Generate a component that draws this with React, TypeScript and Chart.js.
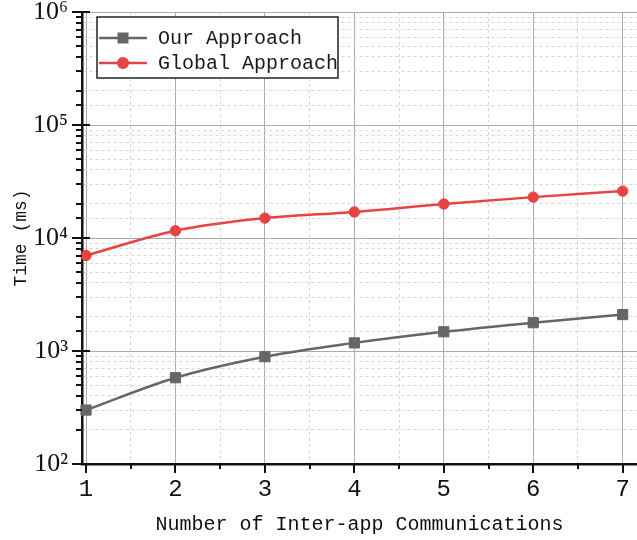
import React, { useEffect, useRef } from 'react';
import { Chart, registerables } from 'chart.js';

Chart.register(...registerables);

const xValues = [1, 2, 3, 4, 5, 6, 7];
const ourApproach = [300, 580, 890, 1180, 1480, 1780, 2100];
const globalApproach = [7000, 11600, 15000, 17000, 20000, 23000, 26000];
const seriesLabels = ['Our Approach', 'Global Approach'];
const seriesColors = ['#666666', '#e84343'];
const seriesMarkers = ['rect', 'circle'];
const xTitle = 'Number of Inter-app Communications';
const yTitle = 'Time (ms)';
const yMin = 100;
const yMax = 1000000;
const xMin = 0.955;
const xMax = 7.16;

const SUP = ['⁰', '¹', '²', '³', '⁴', '⁵', '⁶', '⁷', '⁸', '⁹'];
const MONO = '"Liberation Mono", "DejaVu Sans Mono", monospace';
const SERIF = '"Liberation Serif", "DejaVu Serif", serif';

const isPow10 = (v: number) => {
  const l = Math.log10(v);
  return Math.abs(l - Math.round(l)) < 1e-9;
};
const isInt = (v: number) => Math.abs(v - Math.round(v)) < 1e-9;

const axisTickPlugin = {
  id: 'axisTickPlugin',
  afterDraw(chart: any) {
    const { ctx, chartArea, scales } = chart;
    const x = scales.x;
    const y = scales.y;
    ctx.save();
    ctx.strokeStyle = '#111';
    ctx.lineWidth = 2;
    y.ticks.forEach((t: any) => {
      const py = Math.round(y.getPixelForValue(t.value));
      ctx.beginPath();
      if (isPow10(t.value)) {
        ctx.moveTo(chartArea.left - 10, py);
        ctx.lineTo(chartArea.left + 8, py);
      } else {
        ctx.moveTo(chartArea.left - 6, py);
        ctx.lineTo(chartArea.left, py);
      }
      ctx.stroke();
    });
    x.ticks.forEach((t: any) => {
      const px = Math.round(x.getPixelForValue(t.value));
      ctx.beginPath();
      ctx.moveTo(px, chartArea.bottom);
      ctx.lineTo(px, chartArea.bottom + (isInt(t.value) ? 9 : 5));
      ctx.stroke();
    });
    ctx.restore();
  },
};

const boxLegendPlugin = {
  id: 'boxLegendPlugin',
  afterDraw(chart: any) {
    const { ctx, chartArea } = chart;
    const left = chartArea.left + 15;
    const top = chartArea.top + 5;
    const w = 241;
    const h = 61;
    ctx.save();
    ctx.fillStyle = '#ffffff';
    ctx.fillRect(left, top, w, h);
    ctx.strokeStyle = '#222';
    ctx.lineWidth = 1.5;
    ctx.strokeRect(left, top, w, h);
    chart.data.datasets.forEach((ds: any, i: number) => {
      const cy = top + 21 + i * 25;
      ctx.strokeStyle = ds.borderColor;
      ctx.lineWidth = 2.5;
      ctx.beginPath();
      ctx.moveTo(left + 2, cy);
      ctx.lineTo(left + 50, cy);
      ctx.stroke();
      ctx.fillStyle = ds.borderColor;
      const mx = left + 26;
      if (ds.pointStyle === 'rect') {
        ctx.fillRect(mx - 5.5, cy - 5.5, 11, 11);
      } else {
        ctx.beginPath();
        ctx.arc(mx, cy, 6, 0, Math.PI * 2);
        ctx.fill();
      }
      ctx.fillStyle = '#1a1a1a';
      ctx.font = `20px ${MONO}`;
      ctx.textBaseline = 'middle';
      ctx.textAlign = 'left';
      ctx.fillText(ds.label, left + 61, cy + 1);
    });
    ctx.restore();
  },
};

const zeroPad = (s: any) => {
  s.paddingLeft = 0;
  s.paddingRight = 0;
  s.paddingTop = 0;
  s.paddingBottom = 0;
};

export default function App() {
  const canvasRef = useRef<HTMLCanvasElement | null>(null);

  useEffect(() => {
    if (!canvasRef.current) return;
    const seriesValues = [ourApproach, globalApproach];
    const chart = new Chart(canvasRef.current, {
      type: 'line',
      data: {
        datasets: seriesValues.map((vals, i) => ({
          label: seriesLabels[i],
          data: xValues.map((xv, j) => ({ x: xv, y: vals[j] })),
          borderColor: seriesColors[i],
          backgroundColor: seriesColors[i],
          pointBackgroundColor: seriesColors[i],
          pointBorderColor: seriesColors[i],
          pointStyle: seriesMarkers[i] as any,
          pointRadius: i === 0 ? 7.2 : 5.2,
          pointBorderWidth: 1,
          borderWidth: 2.5,
          tension: 0.4,
          cubicInterpolationMode: 'monotone' as const,
          fill: false,
          clip: false as any,
        })),
      },
      options: {
        animation: false,
        responsive: false,
        maintainAspectRatio: false,
        layout: { autoPadding: false, padding: { top: 12, right: 0, left: 0, bottom: 0 } } as any,
        plugins: {
          legend: { display: false },
          tooltip: { enabled: false },
        },
        scales: {
          x: {
            type: 'linear',
            min: xMin,
            max: xMax,
            ticks: {
              stepSize: 0.5,
              includeBounds: false,
              autoSkip: false,
              maxRotation: 0,
              padding: 11,
              color: '#111',
              font: { family: MONO, size: 24 },
              callback: (v: any) => (isInt(Number(v)) ? String(Math.round(Number(v))) : ''),
            },
            grid: {
              drawTicks: false,
              color: (c: any) => (c.tick && isInt(c.tick.value) ? '#ababab' : '#d6d6d6'),
              lineWidth: 1,
            },
            border: {
              display: true,
              color: '#111',
              width: 2.5,
              dash: (c: any) => (c.tick && !isInt(c.tick.value) ? [3, 3] : []),
            } as any,
            title: {
              display: true,
              text: xTitle,
              color: '#111',
              font: { family: MONO, size: 20 },
              padding: { top: 0, bottom: 3 },
            },
            afterFit: (s: any) => {
              s.height = 76;
              zeroPad(s);
            },
          },
          y: {
            type: 'logarithmic',
            min: yMin,
            max: yMax,
            ticks: {
              autoSkip: false,
              padding: 14,
              color: '#111',
              font: { family: SERIF, size: 26 },
              callback: (v: any) => {
                const n = Number(v);
                if (!isPow10(n)) return '';
                const e = Math.round(Math.log10(n));
                return '10' + String(e).split('').map((d) => SUP[Number(d)]).join('');
              },
            },
            grid: {
              drawTicks: false,
              color: (c: any) => (c.tick && isPow10(c.tick.value) ? '#ababab' : '#d6d6d6'),
              lineWidth: 1,
            },
            border: {
              display: true,
              color: '#111',
              width: 2.5,
              dash: (c: any) => (c.tick && !isPow10(c.tick.value) ? [3, 3] : []),
            } as any,
            title: {
              display: true,
              text: yTitle,
              color: '#111',
              font: { family: MONO, size: 18 },
              padding: { top: 10, bottom: 0 },
            },
            afterFit: (s: any) => {
              s.width = 82;
              zeroPad(s);
            },
          },
        },
      },
      plugins: [axisTickPlugin, boxLegendPlugin],
    });
    return () => chart.destroy();
  }, []);

  return (
    <div style={{ position: 'absolute', left: 0, top: 0, width: 637, height: 540, background: '#fff' }}>
      <canvas ref={canvasRef} width={637} height={540} style={{ display: 'block' }} />
    </div>
  );
}
